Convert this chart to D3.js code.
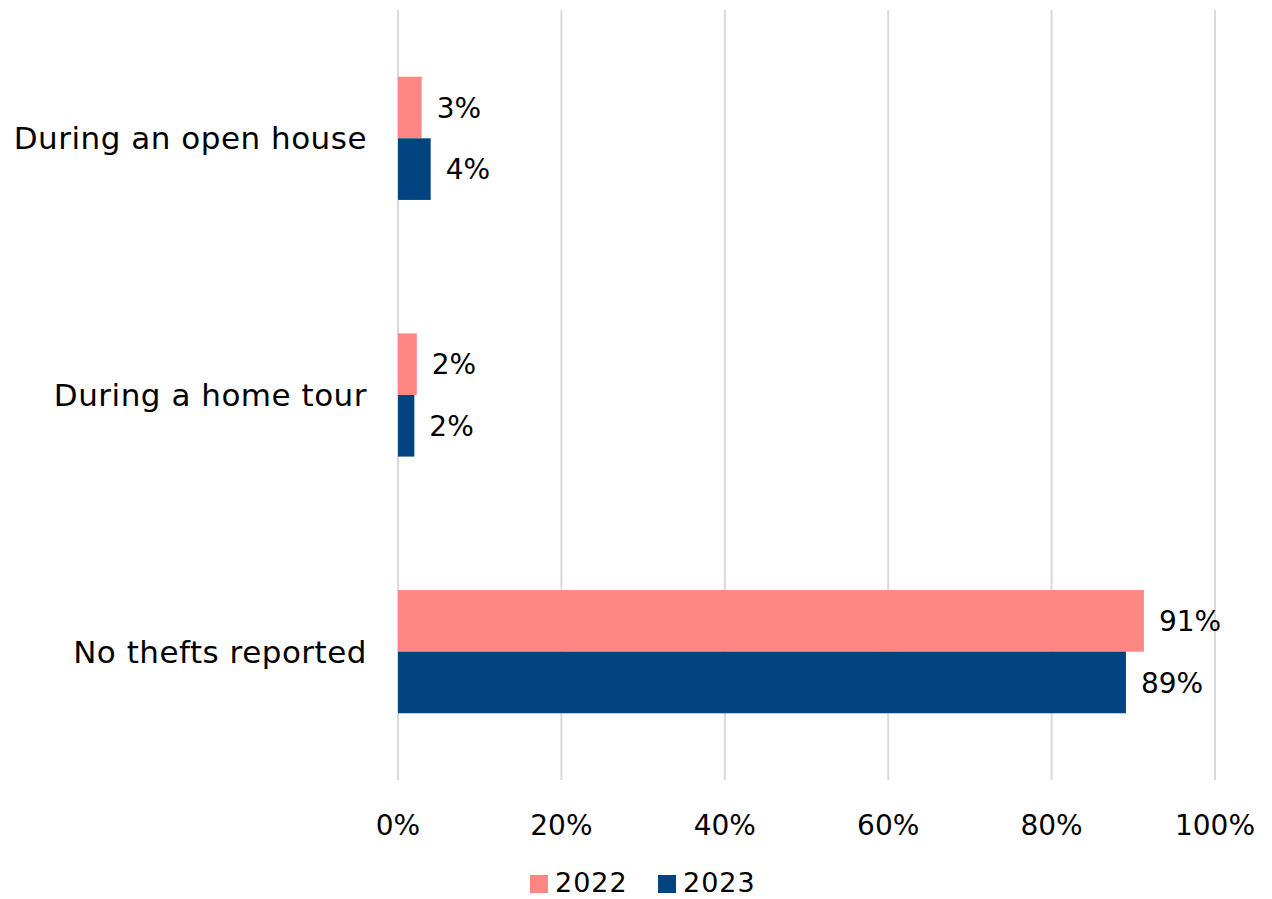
<!DOCTYPE html>
<html>
<head>
<meta charset="utf-8">
<script src="https://cdnjs.cloudflare.com/ajax/libs/d3/7.8.5/d3.min.js"></script>
<style>
  body { margin: 0; background: #fff; }
  svg text { font-family: "DejaVu Sans", sans-serif; fill: #000; }
</style>
</head>
<body>
<div id="chart"></div>
<script>
// chart size (matches the window)
var w = 1272;
var h = 899;

// data
var categories = ["During an open house", "During a home tour", "No thefts reported"];
var years = ["2022", "2023"];
var values2022 = [0.029, 0.023, 0.913];
var values2023 = [0.040, 0.020, 0.891];
var ticks = [0, 0.2, 0.4, 0.6, 0.8, 1.0];
var colors = ["#ff8783", "#024382"];

var margin = {top: 10, right: 57, bottom: 119, left: 398};

var svg = d3.select('#chart').append('svg')
    .attr('width', w)
    .attr('height', h);

var x = d3.scaleLinear()
    .domain([0, 1])
    .range([margin.left, w - margin.right]);

var y = d3.scaleBand()
    .domain(categories)
    .range([margin.top, h - margin.bottom])
    .paddingInner(0.52)
    .paddingOuter(0.26);

var ySub = d3.scaleBand()
    .domain(years)
    .range([0, y.bandwidth()]);

var fmt = d3.format(".0%");

// gridlines
svg.append('g')
    .attr('class', 'grid')
  .selectAll('line')
    .data(ticks)
  .enter().append('line')
    .attr('x1', d => x(d))
    .attr('x2', d => x(d))
    .attr('y1', margin.top)
    .attr('y2', h - margin.bottom)
    .attr('stroke', '#d9d9d9')
    .attr('stroke-width', 2);

// x axis tick labels
svg.append('g')
  .selectAll('text')
    .data(ticks)
  .enter().append('text')
    .attr('x', d => x(d))
    .attr('y', 835)
    .attr('text-anchor', 'middle')
    .style('font-size', '28px')
    .text(d => fmt(d));

// category labels
svg.append('g')
  .selectAll('text')
    .data(categories)
  .enter().append('text')
    .attr('x', margin.left - 31)
    .attr('y', d => y(d) + y.bandwidth() / 2)
    .attr('dy', '0.35em')
    .attr('text-anchor', 'end')
    .style('font-size', '31px')
    .style('letter-spacing', '0.5px')
    .text(d => d);

var rows = [];
categories.forEach(function(c, i) {
  rows.push({cat: c, year: years[0], v: values2022[i], color: colors[0]});
  rows.push({cat: c, year: years[1], v: values2023[i], color: colors[1]});
});

var bars = svg.append('g').attr('class', 'bars');

bars.selectAll('rect')
    .data(rows)
  .enter().append('rect')
    .attr('x', x(0))
    .attr('y', d => y(d.cat) + ySub(d.year))
    .attr('width', d => x(d.v) - x(0))
    .attr('height', ySub.bandwidth())
    .attr('fill', d => d.color);

bars.selectAll('text')
    .data(rows)
  .enter().append('text')
    .attr('x', d => x(d.v) + 15)
    .attr('y', d => y(d.cat) + ySub(d.year) + ySub.bandwidth() / 2)
    .attr('dy', '0.36em')
    .style('font-size', '28px')
    .text(d => fmt(Math.round(d.v * 100) / 100));

// legend
var legend = svg.append('g').attr('class', 'legend');
var legendX = [530, 658];
years.forEach(function(yr, i) {
  legend.append('rect')
    .attr('x', legendX[i])
    .attr('y', 875)
    .attr('width', 18)
    .attr('height', 18)
    .attr('fill', colors[i]);
  legend.append('text')
    .attr('x', legendX[i] + 25)
    .attr('y', 892)
    .style('font-size', '27px')
    .style('letter-spacing', '1px')
    .text(yr);
});
</script>
</body>
</html>
